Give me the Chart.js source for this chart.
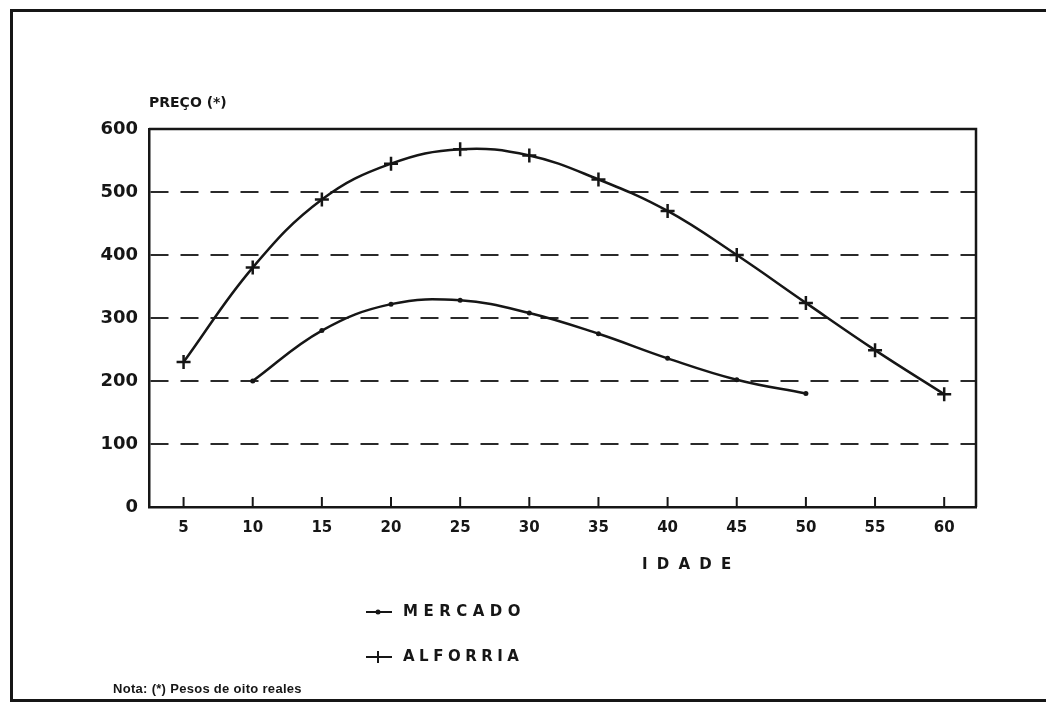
<!DOCTYPE html>
<html>
<head>
<meta charset="utf-8">
<script src="https://cdn.jsdelivr.net/npm/chart.js@4/dist/chart.umd.min.js"></script>
<style>
  html, body { margin: 0; padding: 0; background: #fff; }
  #wrap { position: relative; width: 1048px; height: 704px; }
</style>
</head>
<body>
<div id="wrap"><canvas id="chart" width="1048" height="704"></canvas></div>
<script>
// values
const ages = [5, 10, 15, 20, 25, 30, 35, 40, 45, 50, 55, 60];
const mercadoAges = [10, 15, 20, 25, 30, 35, 40, 45, 50];
const mercado = [200, 280, 322, 328, 308, 275, 236, 202, 180];
const alforria = [230, 380, 488, 545, 568, 558, 520, 470, 400, 324, 249, 179];
const yTicks = [0, 100, 200, 300, 400, 500, 600];

const ink = '#161616';
const FONT = '"DejaVu Sans", sans-serif';

const frame = {
    id: 'frame',
    afterDraw(chart) {
        const ctx = chart.ctx;
        const a = chart.chartArea;
        const xs = chart.scales.x;
        ctx.save();
        ctx.strokeStyle = ink;
        ctx.lineWidth = 2.5;
        // top and right edges of the plot box
        ctx.beginPath();
        ctx.moveTo(a.left, a.top);
        ctx.lineTo(a.right, a.top);
        ctx.lineTo(a.right, a.bottom);
        ctx.stroke();
        // tick marks pointing up into the plot
        ctx.lineWidth = 2;
        ages.forEach(v => {
            const px = xs.getPixelForValue(v);
            ctx.beginPath();
            ctx.moveTo(px, a.bottom);
            ctx.lineTo(px, a.bottom - 10);
            ctx.stroke();
        });
        // page border (left, top, bottom)
        ctx.fillStyle = ink;
        ctx.fillRect(10, 9, 3, 692);
        ctx.fillRect(10, 9, 1036, 3);
        ctx.fillRect(10, 699, 1036, 3);

        ctx.textBaseline = 'middle';
        ctx.textAlign = 'left';
        ctx.font = 'bold 14px ' + FONT;
        ctx.letterSpacing = '0px';
        ctx.fillText('PREÇO (*)', 149, 103);

        ctx.font = 'bold 15px ' + FONT;
        ctx.letterSpacing = '2px';
        ctx.fillText('I D A D E', 642, 565);

        // legend
        const rows = [
            { ds: chart.data.datasets[0], y: 612 },
            { ds: chart.data.datasets[1], y: 657 }
        ];
        rows.forEach(r => {
            ctx.lineWidth = 2;
            ctx.beginPath();
            ctx.moveTo(366, r.y);
            ctx.lineTo(392, r.y);
            ctx.stroke();
            if (r.ds.pointStyle === 'cross') {
                ctx.beginPath();
                ctx.moveTo(378, r.y - 6);
                ctx.lineTo(378, r.y + 6);
                ctx.stroke();
            } else {
                ctx.beginPath();
                ctx.arc(378, r.y, 2.5, 0, Math.PI * 2);
                ctx.fill();
            }
            ctx.font = 'bold 15px ' + FONT;
            ctx.letterSpacing = r.ds.label.length > 7 ? '4.5px' : '5.5px';
            ctx.fillText(r.ds.label, 403, r.y);
        });

        ctx.font = 'bold 13px "Liberation Sans", Arial, sans-serif';
        ctx.letterSpacing = '0.3px';
        ctx.fillText('Nota: (*) Pesos de oito reales', 113, 689);
        ctx.restore();
    }
};

new Chart(document.getElementById('chart'), {
    type: 'line',
    data: {
        datasets: [{
            label: 'MERCADO',
            data: mercadoAges.map((a, i) => ({ x: a, y: mercado[i] })),
            borderColor: ink,
            backgroundColor: ink,
            borderWidth: 2.5,
            tension: 0.4,
            pointStyle: 'circle',
            pointRadius: 2.5,
            pointBorderWidth: 0
        }, {
            label: 'ALFORRIA',
            data: ages.map((a, i) => ({ x: a, y: alforria[i] })),
            borderColor: ink,
            backgroundColor: ink,
            borderWidth: 2.5,
            tension: 0.4,
            pointStyle: 'cross',
            pointRadius: 7,
            pointBorderWidth: 2.5
        }]
    },
    options: {
        responsive: false,
        animation: false,
        layout: { padding: { top: 129, right: 72, left: 0, bottom: 0 } },
        plugins: {
            legend: { display: false },
            tooltip: { enabled: false }
        },
        scales: {
            x: {
                type: 'linear',
                min: 2.5,
                max: 62.3,
                afterBuildTicks: s => { s.ticks = ages.map(v => ({ value: v })); },
                afterFit: s => { s.height = 197; },
                grid: { display: false, drawTicks: false },
                border: { display: true, color: ink, width: 2.5 },
                ticks: {
                    color: ink,
                    padding: 12,
                    font: { family: FONT, size: 15, weight: 'bold' }
                }
            },
            y: {
                min: 0,
                max: 600,
                afterBuildTicks: s => { s.ticks = yTicks.map(v => ({ value: v })); },
                afterFit: s => { s.width = 149; },
                grid: {
                    drawTicks: false,
                    lineWidth: 2,
                    color: c => (c.tick.value === 0 || c.tick.value === 600) ? 'rgba(0,0,0,0)' : '#2a2a2a'
                },
                border: { display: true, color: ink, width: 2.5, dash: [18, 12] },
                ticks: {
                    color: ink,
                    padding: 11,
                    font: { family: FONT, size: 18, weight: 'bold' }
                }
            }
        }
    },
    plugins: [frame]
});
</script>
</body>
</html>
